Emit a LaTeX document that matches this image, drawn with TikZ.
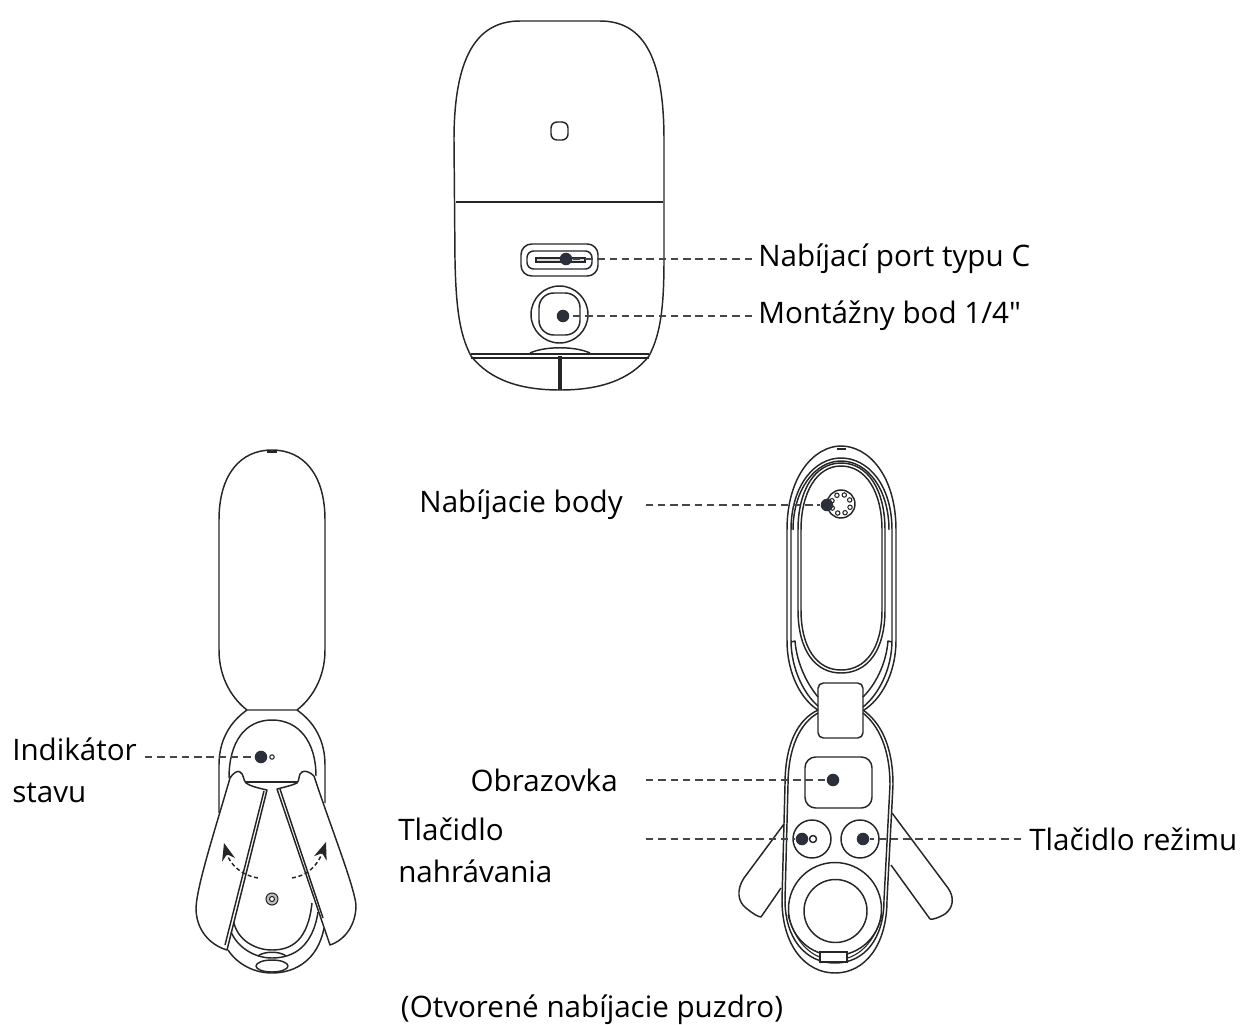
\documentclass[tikz,border=0pt]{standalone}
\usepackage{fontspec}
\usepackage{xcolor}
\usepackage{tikz}
\usetikzlibrary{arrows.meta}
\setmainfont{Open Sans}[Ligatures=TeXOff]
\definecolor{inkline}{RGB}{38,38,40}
\definecolor{markdark}{RGB}{43,47,58}
\definecolor{leadgray}{RGB}{68,70,78}

\begin{document}
\begin{tikzpicture}[x=0.75pt, y=-0.75pt,
    outline/.style={draw=inkline, line width=1.1pt, line join=round},
    heavy/.style={draw=inkline, line width=2pt},
    thin outline/.style={draw=inkline, line width=0.8pt},
    dotmark/.style={circle, fill=markdark, inner sep=0pt, minimum size=9.4pt},
    leader/.style={draw=leadgray, line width=2.1pt, dash pattern=on 5.6pt off 3.6pt},
    caption/.style={inner sep=0pt, font=\fontsize{22.2}{31.5}\selectfont, text=black, align=left}]
\useasboundingbox (0,0) rectangle (1254,1025);

\draw[outline] (454,140) .. controls (454,60) and (475,21) .. (520,21) -- (600,21) .. controls (645,21) and (664,60) .. (664,140) -- (664,260) .. controls (664,310) and (660,335) .. (649,356) .. controls (630,380) and (600,390) .. (560,390) .. controls (520,390) and (490,380) .. (471,356) .. controls (460,335) and (456,310) .. (455,260) -- cycle;
\draw[heavy] (456,202) -- (663,202);
\draw[outline, rounded corners=4.5pt] (551,122) rectangle (568,140);
\draw[outline, rounded corners=8pt] (521,244) rectangle (598,276);
\draw[outline, rounded corners=5pt] (527,251) rectangle (592,269);
\draw[thin outline, fill=black!15] (536,258) rectangle (585,262);
\draw[outline] (559.5,314.5) circle (28.5);
\draw[outline, rounded corners=11pt] (539,293) rectangle (580,335);
\draw[outline] (471,354) -- (649,354);
\draw[outline] (471,358) -- (649,358);
\draw[outline] (530,353) .. controls (545,346) and (575,346) .. (590,353);
\draw[heavy, line width=2.4pt] (560,356) -- (560,390);

\draw[outline] (219,520) .. controls (219,475) and (240,450) .. (272,450) .. controls (304,450) and (325,475) .. (325,520) -- (325,650) .. controls (325,680) and (310,700) .. (297,710) -- (247,710) .. controls (234,700) and (219,680) .. (219,650) -- cycle;
\draw[heavy, line width=1pt] (267,452) -- (277,452);
\draw[outline] (247,710) .. controls (230,722) and (219,740) .. (219,765) -- (219,813);
\draw[outline] (297,710) .. controls (314,722) and (325,740) .. (325,765) -- (325,803);
\draw[outline] (229,778) .. controls (229,742) and (245,720) .. (272,720) .. controls (299,720) and (316,742) .. (316,776);
\draw[outline] (230,778) .. controls (233,773) and (238,770) .. (240,772) .. controls (244,774) and (243,780) .. (246,783) .. controls (250,786) and (258,788) .. (267,790) -- (227,950) .. controls (210,945) and (196,930) .. (196,908) .. controls (197,885) and (215,830) .. (230,778);
\draw[outline] (314,776) .. controls (310,772) and (305,770) .. (302,772) .. controls (298,774) and (300,780) .. (297,783) .. controls (293,785) and (285,787) .. (277,789) -- (330,945) .. controls (345,940) and (356,925) .. (356,905) .. controls (354,885) and (330,825) .. (314,776);
\draw[outline] (246,782) -- (298,782);
\draw[outline] (264,791) -- (225,945);
\draw[outline] (280,789) -- (323,918);
\draw[outline] (234,923) .. controls (238,940) and (255,950) .. (272,950) .. controls (292,950) and (308,940) .. (312,903);
\draw[outline] (231,932) .. controls (238,948) and (255,958) .. (272,958) .. controls (295,958) and (313,945) .. (318,912);
\draw[outline] (228,950) .. controls (238,965) and (255,973) .. (272,973) .. controls (295,973) and (318,960) .. (324,928);
\draw[outline] (272,966) ellipse (16 and 6);
\draw[outline] (258,956) .. controls (264,951) and (280,951) .. (286,956);
\draw[thin outline, fill=black!25] (272,899) circle (6);
\draw[thin outline, fill=white] (272,899) circle (2.5);
\draw[outline, densely dashed, -{Stealth[length=13pt, width=10pt]}] (258,878) .. controls (243,876) and (230,865) .. (224,843);
\draw[outline, densely dashed, -{Stealth[length=13pt, width=10pt]}] (292,878) .. controls (307,876) and (318,865) .. (326,842);
\draw[thin outline] (272,757) circle (2.2);

\draw[outline] (787,530) .. controls (787,475) and (815,446) .. (841,446) .. controls (868,446) and (896,475) .. (896,530) -- (896,640) .. controls (896,675) and (880,700) .. (864,710);
\draw[outline] (787,530) -- (787,640) .. controls (787,675) and (802,700) .. (818,710);
\draw[outline] (791,530) .. controls (791,485) and (815,458) .. (841,458) .. controls (868,458) and (892,485) .. (892,530) -- (892,640) .. controls (892,670) and (878,695) .. (863,707);
\draw[outline] (791,530) -- (791,640) .. controls (791,670) and (805,695) .. (818,706);
\draw[outline] (793,530) .. controls (793,490) and (815,461) .. (841,461) .. controls (868,461) and (889,490) .. (889,530);
\draw[outline] (798,530) .. controls (798,490) and (815,463) .. (841,463) .. controls (868,463) and (885,490) .. (885,530) -- (885,610) .. controls (885,650) and (868,673) .. (841,673) .. controls (815,673) and (798,650) .. (798,610) -- cycle;
\draw[outline] (801,530) .. controls (801,492) and (817,466) .. (841,466) .. controls (866,466) and (882,492) .. (882,530) -- (882,610) .. controls (882,648) and (866,670) .. (841,670) .. controls (817,670) and (801,648) .. (801,610) -- cycle;
\draw[outline] (791,642) -- (795,641) .. controls (797,665) and (808,685) .. (818,697);
\draw[outline] (892,642) -- (888,641) .. controls (886,665) and (875,685) .. (863,697);
\draw[heavy, line width=1pt] (837,449) -- (846,449);
\draw[outline] (841,504) circle (14);
\foreach \a in {0,45,...,315}
    \draw[thin outline] (841,504) ++(\a+20:9.6) circle (2.2);

\draw[outline] (784,824) -- (744,878) .. controls (736,890) and (738,902) .. (746,908) .. controls (752,913) and (758,917) .. (761,917) -- (781,888);
\draw[outline] (892,813) -- (948,888) .. controls (955,898) and (953,908) .. (945,914) .. controls (940,917) and (933,920) .. (930,919) -- (891,865);
\draw[outline, rounded corners=4pt] (818,683) rectangle (863,738);
\draw[outline] (818,710) .. controls (797,720) and (785,745) .. (785,785) -- (782,900) .. controls (782,945) and (805,973) .. (835,973) .. controls (865,973) and (887,945) .. (887,900) -- (893,785) .. controls (893,745) and (880,722) .. (863,710);
\draw[outline] (818,713) .. controls (800,723) and (788,748) .. (788,785) -- (785,900) .. controls (785,938) and (805,963) .. (835,963) .. controls (865,963) and (884,938) .. (884,900) -- (890,785) .. controls (890,748) and (878,725) .. (863,713);
\draw[thin outline] (788,915) .. controls (795,942) and (812,960) .. (835,960) .. controls (858,960) and (875,942) .. (882,915);
\draw[outline, rounded corners=8pt] (805,757) rectangle (872,808);
\draw[outline] (812,839) circle (19);
\draw[outline] (860,839) circle (19);
\draw[outline] (813,839) circle (3.5);
\draw[outline] (835,909) circle (46.5);
\draw[outline] (835.5,911) circle (31.5);
\draw[thin outline, fill=white] (820,952) rectangle (847,962);

\node[dotmark] (dotport) at (566,259) {};
\node[dotmark] (dotmount) at (563,316) {};
\node[dotmark] (dotstatus) at (261,757) {};
\node[dotmark] (dotcontacts) at (827,505) {};
\node[dotmark] (dotscreen) at (833,780) {};
\node[dotmark] (dotrecord) at (802,839) {};
\node[dotmark] (dotmode) at (863,839) {};

\node[caption, anchor=west] (labport) at (758,259) {Nabíjací port typu C};
\node[caption, anchor=west] (labmount) at (758,316) {Montážny bod 1/4"};
\node[caption, anchor=east] (labcontacts) at (623,505) {Nabíjacie body};
\node[caption, anchor=west] (labstatus) at (12,770) {Indikátor\\stavu};
\node[caption, anchor=east] (labscreen) at (618,780) {Obrazovka};
\node[caption, anchor=west] (labrecord) at (398,850) {Tlačidlo\\nahrávania};
\node[caption, anchor=west] (labmode) at (1029,839) {Tlačidlo režimu};
\node[caption, anchor=center] (labcase) at (592,1010) {(Otvorené nabíjacie puzdro)};

\coordinate (startstatus) at (145,757);
\coordinate (startrecord) at (646,839);

\draw[leader, shorten <=4.5pt] (labport.west) -- (dotport);
\draw[leader, shorten <=4.5pt] (labmount.west) -- (dotmount);
\draw[leader, shorten <=17pt] (labcontacts.east) -- (dotcontacts);
\draw[leader] (startstatus) -- (dotstatus);
\draw[leader, shorten <=21pt] (labscreen.east) -- (dotscreen);
\draw[leader] (startrecord) -- (dotrecord);
\draw[leader, shorten <=6pt] (labmode.west) -- (dotmode);
\end{tikzpicture}
\end{document}
